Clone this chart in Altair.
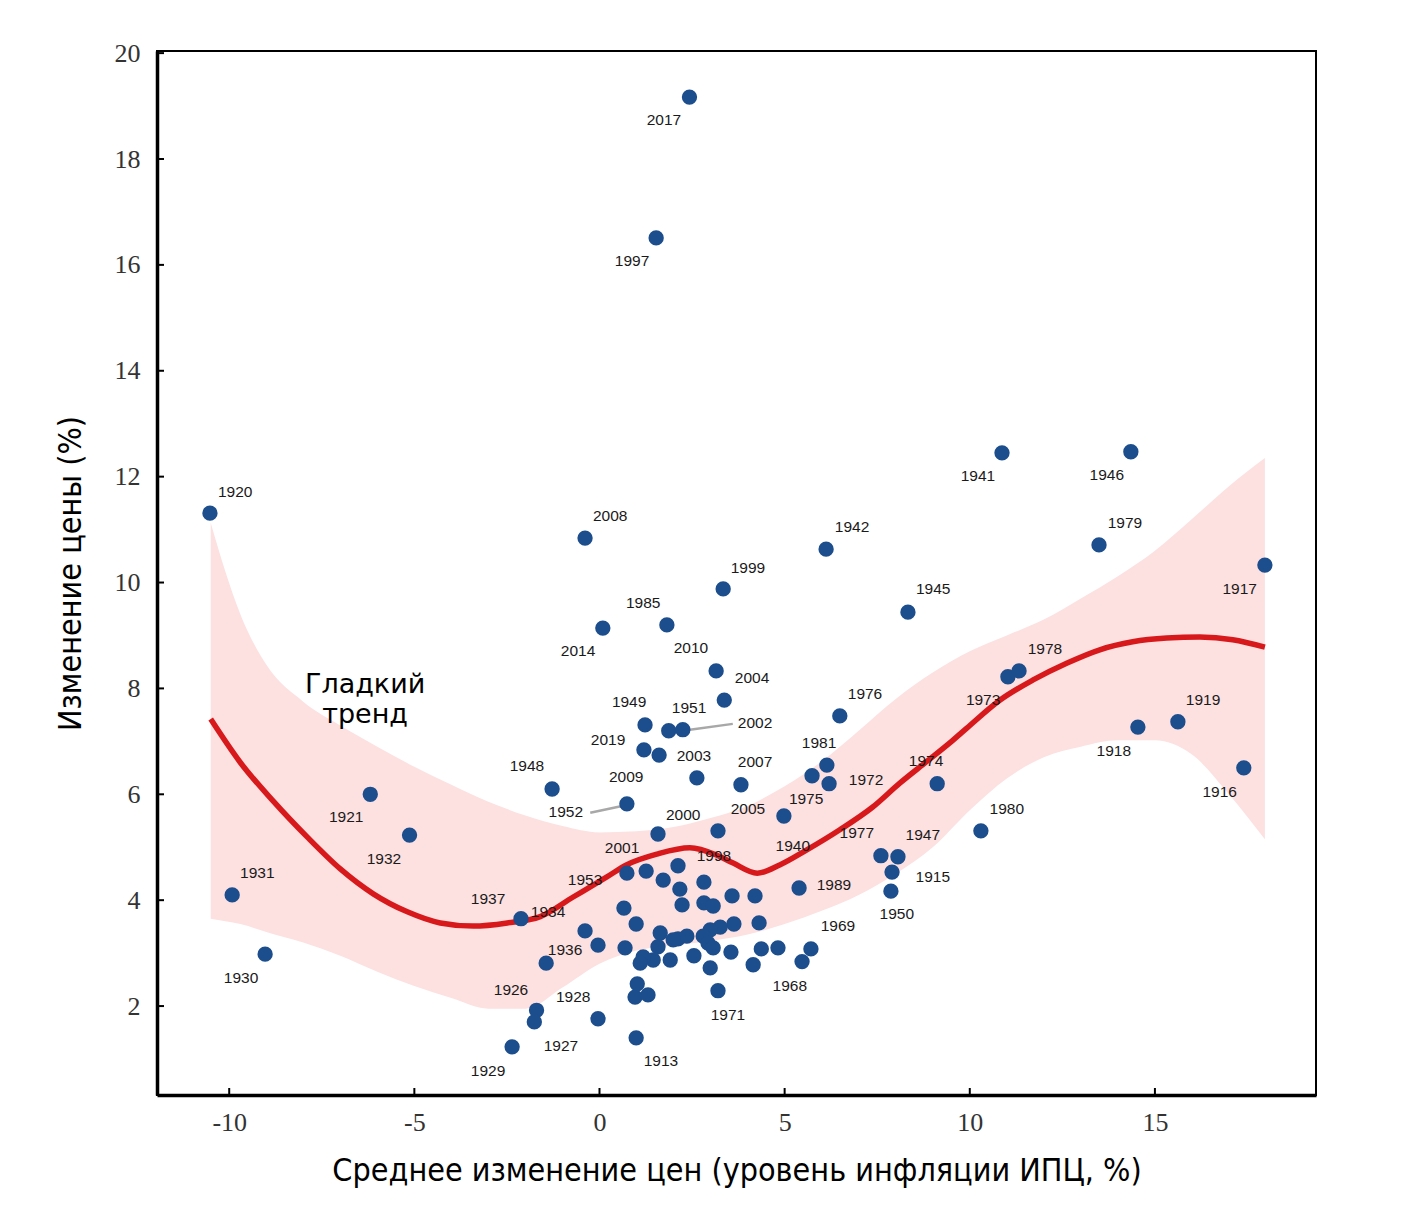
import altair as alt
import pandas as pd

# ---------------- data ----------------
pts_x = [2.43, 1.53, -10.52, -0.39, 10.87, 14.35, 6.12, 13.49, 17.97, 3.34,
         8.33, 0.09, 1.82, 3.15, 11.03, 11.33, 3.37, 6.49, 1.23, 1.87,
         2.25, 1.20, 1.61, -1.28, 2.63, 3.82, 6.14, 5.74, 6.20, -6.19,
         -5.13, -9.92, -9.03, -2.12, -2.36, -1.70, -1.76, -0.04, 0.99, -1.44,
         -0.39, -0.04, 0.69, 0.66, 0.99, 0.74, 1.58, 3.20, 4.98, 0.74,
         1.26, 1.72, 2.12, 2.17, 2.23, 2.82, 2.82, 3.07, 3.58, 4.20,
         5.39, 4.31, 3.63, 3.26, 2.99, 2.80, 2.93, 3.07, 3.55, 4.37,
         4.82, 5.71, 5.47, 4.15, 2.99, 2.55, 3.20, 1.64, 1.58, 1.45,
         1.18, 1.10, 1.91, 2.12, 2.36, 1.99, 1.02, 0.96, 1.31, 9.12,
         10.30, 17.40, 15.62, 14.54, 7.60, 8.06, 7.90, 7.87]
pts_y = [19.17, 16.51, 11.31, 10.84, 12.45, 12.47, 10.63, 10.71, 10.33, 9.88,
         9.44, 9.14, 9.20, 8.33, 8.22, 8.33, 7.78, 7.48, 7.31, 7.20,
         7.22, 6.84, 6.74, 6.10, 6.31, 6.18, 6.55, 6.35, 6.20, 6.00,
         5.23, 4.10, 2.98, 3.65, 1.23, 1.92, 1.70, 1.76, 1.40, 2.81,
         3.42, 3.15, 3.10, 3.85, 3.55, 5.82, 5.25, 5.31, 5.59, 4.51,
         4.55, 4.38, 4.65, 4.21, 3.91, 4.34, 3.95, 3.89, 4.08, 4.08,
         4.23, 3.57, 3.55, 3.49, 3.44, 3.32, 3.19, 3.10, 3.02, 3.08,
         3.10, 3.08, 2.84, 2.78, 2.72, 2.95, 2.29, 3.38, 3.12, 2.87,
         2.93, 2.81, 2.87, 3.27, 3.32, 3.25, 2.42, 2.17, 2.21, 6.20,
         5.31, 6.50, 7.37, 7.27, 4.84, 4.82, 4.53, 4.17]

label_text = ["2017", "1997", "1920", "2008", "1941", "1946", "1942", "1979", "1917", "1999",
              "1945", "1985", "2014", "2010", "1978", "2004", "1976", "1973", "1919", "1949",
              "1951", "2002", "2019", "1918", "1981", "2003", "2007", "1948", "1974", "2009",
              "1972", "1916", "1975", "1952", "2005", "1980", "2000", "1921", "1977", "1947",
              "2001", "1940", "1998", "1932", "1931", "1915", "1989", "1937", "1953", "1934",
              "1950", "1936", "1969", "1930", "1968", "1926", "1928", "1971", "1927", "1913",
              "1929"]
label_x = [1.74, 0.88, -9.84, 0.29, 10.22, 13.70, 6.82, 14.19, 17.29, 4.01,
           9.01, 1.18, -0.58, 2.47, 12.03, 4.12, 7.17, 10.36, 16.30, 0.80,
           2.42, 4.20, 0.23, 13.89, 5.93, 2.55, 4.20, -1.96, 8.82, 0.72,
           7.20, 16.75, 5.58, -0.91, 4.01, 11.00, 2.26, -6.84, 6.95, 8.73,
           0.61, 5.22, 3.09, -5.82, -9.24, 9.00, 6.33, -3.01, -0.39, -1.39,
           8.03, -0.93, 6.44, -9.68, 5.14, -2.39, -0.71, 3.47, -1.04, 1.66,
           -3.01]
label_y = [18.74, 16.07, 11.71, 11.26, 12.01, 12.03, 11.05, 11.13, 9.88, 10.28,
           9.88, 9.61, 8.71, 8.76, 8.75, 8.20, 7.90, 7.78, 7.78, 7.74,
           7.63, 7.35, 7.03, 6.82, 6.97, 6.72, 6.61, 6.54, 6.63, 6.33,
           6.27, 6.04, 5.91, 5.67, 5.72, 5.72, 5.61, 5.57, 5.27, 5.23,
           4.99, 5.02, 4.84, 4.78, 4.51, 4.44, 4.29, 4.02, 4.38, 3.78,
           3.74, 3.06, 3.51, 2.53, 2.38, 2.30, 2.17, 1.83, 1.25, 0.96,
           0.77]

# leader lines (2002, 1952)
lead_x1 = [2.44, -0.25]
lead_y1 = [7.22, 5.65]
lead_x2 = [3.60, 0.61]
lead_y2 = [7.33, 5.78]

# smooth trend
trend_x = [-10.50, -9.71, -8.81, -7.89, -7.00, -6.11, -5.19, -4.30, -3.41, -2.49,
           -1.60, -0.71, 0.20, 0.74, 1.55, 2.44, 3.17, 3.61, 4.26, 4.88,
           5.60, 6.49, 7.38, 8.11, 8.84, 9.46, 9.92, 10.82, 11.71, 12.63,
           13.51, 14.40, 15.32, 16.21, 17.10, 17.97]
trend_y = [7.42, 6.61, 5.87, 5.19, 4.59, 4.12, 3.78, 3.57, 3.51, 3.57,
           3.69, 4.06, 4.44, 4.67, 4.87, 4.99, 4.85, 4.70, 4.51, 4.67,
           4.95, 5.33, 5.76, 6.21, 6.62, 6.97, 7.25, 7.78, 8.16, 8.48,
           8.73, 8.88, 8.95, 8.97, 8.92, 8.78]

# confidence band
band_x = [-10.50, -10.10, -9.70, -9.00, -8.00, -7.00, -6.00, -5.00, -4.00, -3.00,
          -2.00, -1.00, 0.00, 1.00, 2.00, 3.00, 4.00, 5.00, 6.00, 7.00,
          8.00, 9.00, 10.00, 11.00, 12.00, 13.00, 14.00, 15.00, 16.00, 17.00,
          17.97]
band_hi = [11.13, 10.20, 9.40, 8.45, 7.75, 7.30, 6.90, 6.52, 6.18, 5.86,
           5.60, 5.40, 5.28, 5.30, 5.38, 5.55, 5.78, 6.15, 6.62, 7.20,
           7.80, 8.30, 8.70, 9.00, 9.30, 9.70, 10.12, 10.60, 11.20, 11.82,
           12.35]
band_lo = [3.65, 3.60, 3.55, 3.40, 3.20, 2.95, 2.65, 2.38, 2.15, 1.95,
           1.95, 2.35, 2.80, 3.05, 3.15, 3.23, 3.35, 3.55, 3.80, 4.10,
           4.50, 5.00, 5.70, 6.30, 6.70, 6.90, 7.02, 7.02, 6.75, 6.00,
           5.15]

x_ticks = [-10, -5, 0, 5, 10, 15]
y_ticks = [2, 4, 6, 8, 10, 12, 14, 16, 18, 20]

note_text = "Гладкий\nтренд"
note_x = [-6.33]
note_y = [8.07]

x_title = "Среднее изменение цен (уровень инфляции ИПЦ, %)"
y_title = "Изменение цены (%)"

# ---------------- frames ----------------
pts = pd.DataFrame({"x": pts_x, "y": pts_y})
labels = pd.DataFrame({"x": label_x, "y": label_y, "t": label_text})
leads = pd.DataFrame({"x": lead_x1, "y": lead_y1, "x2": lead_x2, "y2": lead_y2})
trend = pd.DataFrame({"x": trend_x, "y": trend_y})
band = pd.DataFrame({"x": band_x, "y": band_lo, "hi": band_hi})
xt = pd.DataFrame({"x": x_ticks})
yt = pd.DataFrame({"y": y_ticks})
note = pd.DataFrame({"x": note_x, "y": note_y, "t": [note_text]})

W, H = 1159, 1044
xs = alt.Scale(domain=[-11.95, 19.35], nice=False, zero=False)
ys = alt.Scale(domain=[0.32, 20.04], nice=False, zero=False)

x_axis = alt.Axis(
    values=x_ticks, labelExpr="'' + datum.value", grid=False, ticks=False,
    domainColor="black", domainWidth=3.5, labelFont="Liberation Serif",
    labelFontSize=26, labelColor="#333", labelPadding=14,
    title=x_title, titleFont="DejaVu Sans Condensed", titleFontSize=32,
    titleFontWeight="normal", titleColor="black", titleY=75,
    titleBaseline="middle",
)
y_axis = alt.Axis(
    values=y_ticks, labelExpr="'' + datum.value", grid=False, ticks=False,
    domainColor="black", domainWidth=3.5, labelFont="Liberation Serif",
    labelFontSize=26, labelColor="#333", labelPadding=17,
    title=y_title, titleFont="DejaVu Sans Condensed", titleFontSize=32,
    titleFontWeight="normal", titleColor="black", titleX=-87,
    titleBaseline="middle",
)


def X(field="x"):
    return alt.X(f"{field}:Q", scale=xs, axis=x_axis, title=x_title)


def Y(field="y"):
    return alt.Y(f"{field}:Q", scale=ys, axis=y_axis, title=y_title)


band_layer = alt.Chart(band).mark_area(
    color="#fde0e0", opacity=1, interpolate="monotone"
).encode(x=X(), y=Y(), y2="hi:Q")
trend_layer = alt.Chart(trend).mark_line(
    color="#d7191c", strokeWidth=5.5, interpolate="monotone"
).encode(x=X(), y=Y())

lead_layer = alt.Chart(leads).mark_rule(color="#a8a8a8", strokeWidth=2.5).encode(
    x=X(), y=Y(), x2="x2:Q", y2="y2:Q",
)
pts_layer = alt.Chart(pts).mark_circle(size=235, color="#1c4e8d", opacity=1).encode(
    x=X(), y=Y()
)
label_layer = alt.Chart(labels).mark_text(
    font="Liberation Sans", fontSize=15.5, color="#1a1a1a",
    align="center", baseline="middle",
).encode(x=X(), y=Y(), text="t:N")
note_layer = alt.Chart(note).mark_text(
    font="DejaVu Sans", fontSize=27, color="black", align="center",
    baseline="middle", lineBreak="\n", lineHeight=30,
).encode(x=X(), y=Y(), text="t:N")
xtick_layer = alt.Chart(xt).mark_rule(color="black", strokeWidth=2).encode(
    x=X(), y=alt.value(H), y2=alt.value(H - 7)
)
ytick_layer = alt.Chart(yt).mark_rule(color="black", strokeWidth=2).encode(
    y=Y(), x=alt.value(0), x2=alt.value(7)
)

chart = alt.layer(
    band_layer, trend_layer, lead_layer, pts_layer, label_layer, note_layer,
    xtick_layer, ytick_layer,
).properties(
    width=W, height=H,
    background="white",
    autosize=alt.AutoSizeParams(type="none"),
    padding={"left": 149, "top": 43, "right": 90, "bottom": 120},
).configure_view(
    stroke="black", strokeWidth=2
)

chart.save("out.html", embed_options={"renderer": "svg", "actions": False})
